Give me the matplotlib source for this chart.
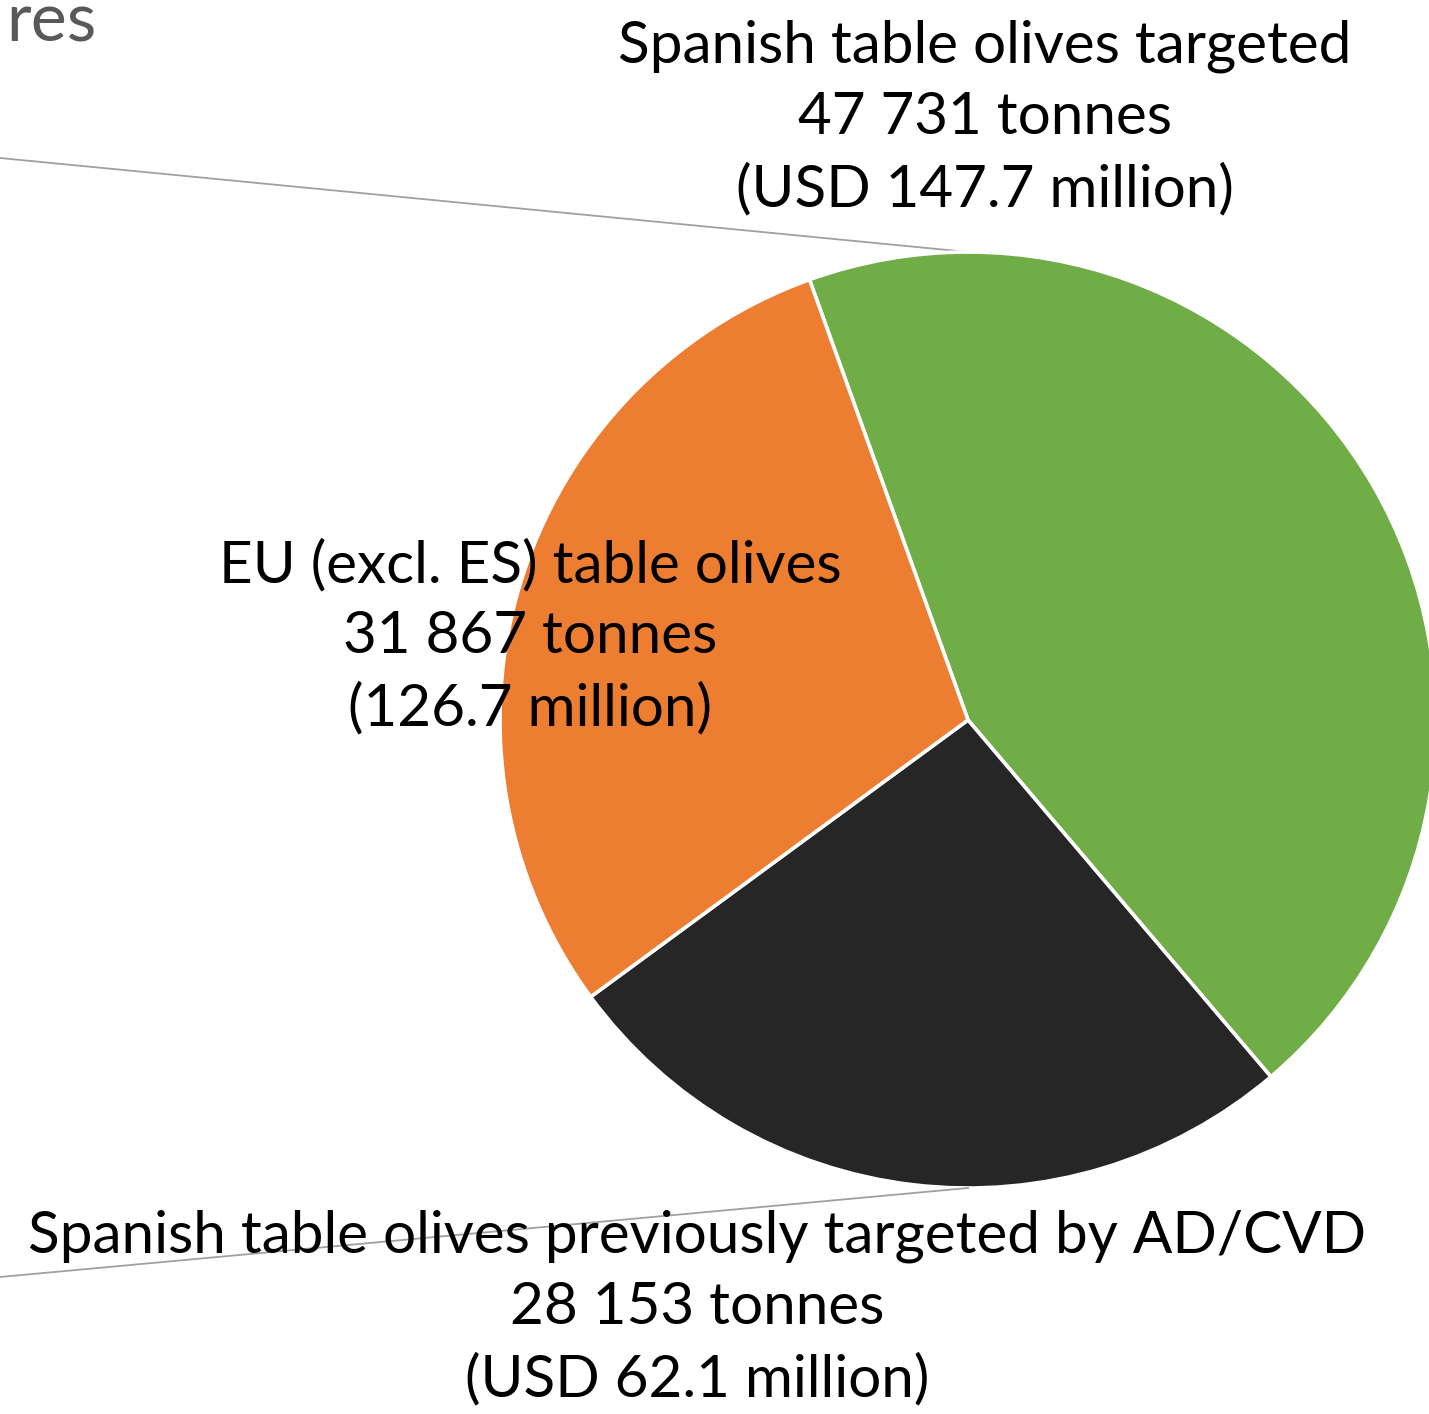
import matplotlib.pyplot as plt

# data
labels = ['Spanish table olives targeted',
          'Spanish table olives previously targeted by AD/CVD',
          'EU (excl. ES) table olives']
tonnes = [47731, 28153, 31867]
value_text = ['(USD 147.7 million)', '(USD 62.1 million)', '(126.7 million)']
colors = ['#70AD47', '#262626', '#ED7D31']

W, H = 1429, 1414
fig = plt.figure(figsize=(W / 100, H / 100), dpi=100)
ax = fig.add_axes([0, 0, 1, 1])

cx, cy, r = 968, H - 720, 468
ax.pie(tonnes, colors=colors, startangle=109.8, counterclock=False,
       center=(cx, cy), radius=r, frame=True,
       wedgeprops=dict(edgecolor='white', linewidth=2.6))
ax.set_xlim(0, W)
ax.set_ylim(0, H)
ax.set_aspect('equal')
ax.axis('off')

# connector lines of the pie-of-pie (lead to top and bottom of the pie)
ax.plot([0, cx], [H - 158, cy + r], color='#A0A0A0', lw=1.3, zorder=0)
ax.plot([0, cx], [H - 1277, cy - r], color='#A0A0A0', lw=1.3, zorder=3)

# leftover title fragment
ax.text(6, H - 42, 'res', ha='left', va='baseline', fontsize=49,
        color='#595959', family='Lato')

def fmt(n):
    return f'{n:,}'.replace(',', ' ')

txt = dict(family='Lato', fontsize=42, color='black', ha='center',
           va='center', linespacing=1.42, zorder=5)
pos = [(985, H - 118), (697, H - 1308), (530, H - 637)]
for lab, t, v, (x, y) in zip(labels, tonnes, value_text, pos):
    ax.text(x, y, f'{lab}\n{fmt(t)} tonnes\n{v}', **txt)

plt.savefig('out.png', dpi=100)
